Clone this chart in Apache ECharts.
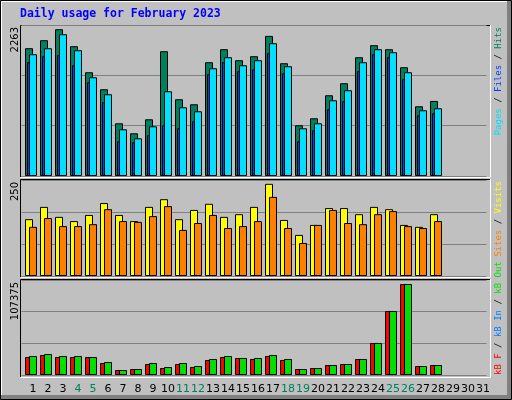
<!DOCTYPE html>
<html><head><meta charset="utf-8">
<script src="https://cdn.jsdelivr.net/npm/echarts@6/dist/echarts.min.js"></script>
<style>html,body{margin:0;padding:0;background:#c0c0c0}#c{width:512px;height:400px}</style>
</head><body><div id="c"></div>
<script>
var days = [];
for (var i = 1; i <= 31; i++) days.push(String(i));
var weekendDays = ['4','5','11','12','18','19','25','26'];
var hits  = [1915,2035,2200,1945,1555,1300,790,640,850,1870,1150,1075,1705,1900,1735,1795,2100,1690,760,865,1210,1390,1780,1960,1900,1630,1045,1125,null,null,null];
var pages = [1825,1915,2125,1885,1480,1225,700,565,745,1270,1030,970,1615,1780,1660,1735,1990,1645,715,790,1135,1285,1705,1900,1855,1555,985,1015,null,null,null];
var files = [1705,1795,1810,1660,1405,1105,520,505,610,760,715,820,1525,1705,1570,1600,1840,1540,520,685,1000,1120,1570,1825,1780,1450,910,940,null,null,null];
var visits = [148,180,154,143,159,190,159,143,180,200,148,172,188,154,161,180,240,146,107,133,177,177,161,180,174,133,128,161,null,null,null];
var sites  = [128,151,130,130,135,174,143,141,156,182,120,138,159,125,130,143,206,125,86,133,172,138,135,161,169,130,125,143,null,null,null];
var kbF   = [20350,22600,20350,20350,20350,13560,5650,6780,12430,7910,12430,9040,16960,20350,19220,18090,21480,16960,6780,7910,11300,12430,18090,36170,72350,102870,10170,11300,null,null,null];
var kbOut = [21480,23740,21480,21480,20350,14700,5650,6780,13560,9040,13560,10170,18090,21480,19220,19220,22600,18090,6780,7910,11300,12430,18090,36170,72350,102870,10170,11300,null,null,null];
var maxLabels = ['2263','250','107375'];
var maxVals = [2263,250,107375];

var panels = [{top:25,h:151},{top:180,h:96},{top:280,h:95}];
var W = 465;
var grids = [], xAxes = [], yAxes = [], series = [];
function addGrid(p, left, showGrid, showLabels) {
  var idx = grids.length;
  grids.push({left:left, top:panels[p].top, width:W, height:panels[p].h});
  xAxes.push({type:'category', gridIndex:idx, data:days, axisLine:{show:false}, axisTick:{show:false},
    axisLabel: showLabels ? {show:true, interval:0, margin:9, fontFamily:'DejaVu Sans', fontSize:11,
      formatter:function(v){return weekendDays.indexOf(v)>=0 ? '{w|'+v+'}' : '{n|'+v+'}';},
      rich:{w:{color:'#00805c',fontFamily:'DejaVu Sans',fontSize:11},n:{color:'#000',fontFamily:'DejaVu Sans',fontSize:11}}} : {show:false}});
  yAxes.push({type:'value', gridIndex:idx, min:0, max:maxVals[p], interval:maxVals[p]/3,
    axisLabel:{show:false}, axisLine:{show:false}, axisTick:{show:false},
    splitLine:{show:showGrid, lineStyle:{color:'#808080', width:1}}});
  return idx;
}
function bar(gi, data, color, w, z) {
  series.push({type:'bar', xAxisIndex:gi, yAxisIndex:gi, data:data, barWidth:w, z:z, silent:true, animation:false,
    itemStyle:{color:color, borderColor:'#000', borderWidth:1}});
}
var g;
g = addGrid(0, 21.5, true, false); bar(g, hits, '#00805c', 8, 2);
g = addGrid(0, 21, false, false);  bar(g, files, '#0040ff', 3, 3);
g = addGrid(0, 25.5, false, false); bar(g, pages, '#00e0ff', 8, 4);
g = addGrid(1, 21.5, true, false); bar(g, visits, '#ffff00', 8, 2);
g = addGrid(1, 25.5, false, false); bar(g, sites, '#ff8000', 8, 3);
g = addGrid(2, 21.5, true, false); bar(g, kbF, '#ff0000', 8, 2);
g = addGrid(2, 25.5, false, true); bar(g, kbOut, '#00e000', 8, 3);

var graphics = [
  {type:'rect', shape:{x:0.5,y:0.5,width:511,height:399}, style:{fill:'#c0c0c0', stroke:'#000', lineWidth:1}, z:-10},
  {type:'polyline', shape:{points:[[1.5,398],[1.5,1.5],[510,1.5]]}, style:{stroke:'#fff', lineWidth:1, fill:null}, z:-9},
  {type:'rect', shape:{x:507,y:1,width:4,height:398}, style:{fill:'#808080'}, z:-9},
  {type:'rect', shape:{x:1,y:395,width:510,height:4}, style:{fill:'#808080'}, z:-9},
  {type:'text', left:20, top:8, style:{text:'Daily usage for February 2023', fill:'#0000ff', font:'bold 11.5px "DejaVu Sans Mono"'}}
];
var pb = [[25,177],[179,277],[279,377]];
pb.forEach(function(b){
  graphics.push({type:'polyline', shape:{points:[[20.5,b[1]],[20.5,b[0]+0.5],[491,b[0]+0.5]]}, style:{stroke:'#000',lineWidth:1,fill:null}, z:-5});
  graphics.push({type:'polyline', shape:{points:[[20.5,b[1]+0.5],[490.5,b[1]+0.5],[490.5,b[0]]]}, style:{stroke:'#fff',lineWidth:1,fill:null}, z:-5});
});
var labY = [27,182,282];
maxLabels.forEach(function(t,i){
  graphics.push({type:'text', x:15, y:labY[i], rotation:Math.PI/2,
    style:{text:t, fill:'#000', font:'10px "DejaVu Sans"', align:'right', verticalAlign:'middle'}});
});
var mono = '9px "DejaVu Sans Mono"';
function rlabel(y, parts, align){
  graphics.push({type:'text', x:499, y:y, rotation:Math.PI/2,
    style:{text:parts.map(function(p){return '{'+p[1]+'|'+p[0]+'}';}).join(''), align:align, verticalAlign:'middle',
      rich:{a:{fill:'#00e0ff',font:mono},b:{fill:'#0040ff',font:mono},c:{fill:'#00805c',font:mono},
            s:{fill:'#ff8000',font:mono},v:{fill:'#ffff00',font:mono},k:{fill:'#ff0000',font:mono},
            i:{fill:'#0080ff',font:mono},o:{fill:'#00e000',font:mono},x:{fill:'#000',font:mono}}}});
}
rlabel(27, [['Pages','a'],[' / ','x'],['Files','b'],[' / ','x'],['Hits','c']], 'right');
rlabel(181, [['Sites','s'],[' / ','x'],['Visits','v']], 'right');
rlabel(375, [['kB F','k'],[' / ','x'],['kB In','i'],[' / ','x'],['kB Out','o']], 'left');

var chart = echarts.init(document.getElementById('c'));
chart.setOption({animation:false, backgroundColor:'#c0c0c0', grid:grids, xAxis:xAxes, yAxis:yAxes, series:series, graphic:graphics});
</script></body></html>
